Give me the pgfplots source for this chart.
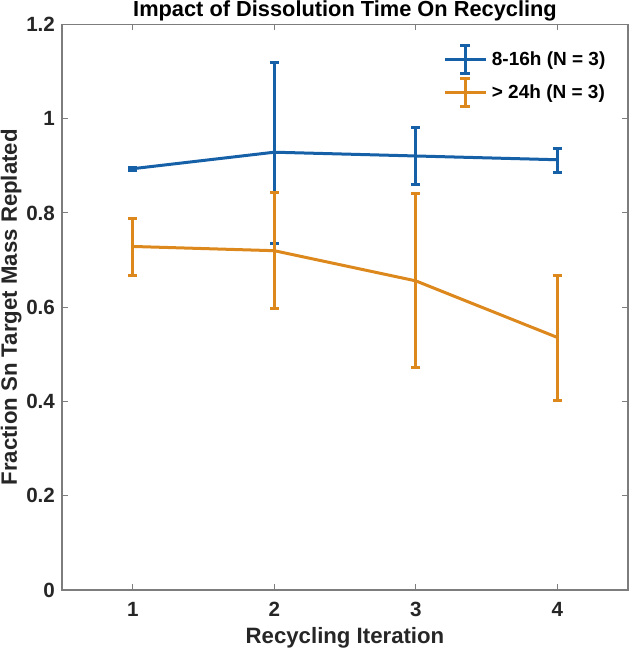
\documentclass[border=0pt]{standalone}
\usepackage{pgfplots}
\pgfplotsset{compat=1.18}
\usepackage{fontspec}
\setmainfont{Liberation Sans}
\definecolor{mblue}{RGB}{22,96,168}
\definecolor{morange}{RGB}{220,136,28}
\definecolor{axgray}{RGB}{125,125,125}
\begin{document}
\begin{tikzpicture}
\begin{axis}[
  name=ax,
  scale only axis,
  width=283pt, height=282.75pt,
  xmin=0.5, xmax=4.5, ymin=0, ymax=1.2,
  xtick={1,2,3,4}, ytick={0,0.2,0.4,0.6,0.8,1,1.2},
  yticklabels={0,0.2,0.4,0.6,0.8,1,1.2},
  tick align=inside, major tick length=3pt,
  axis line style={axgray, line width=0.6pt},
  every tick/.style={axgray, line width=0.5pt},
  /pgf/number format/assume math mode=true,
  ticklabel style={font=\fontsize{10.3}{12}\selectfont\bfseries, text=black!85},
  xticklabel style={anchor=base, yshift=-13pt},
  title={Impact of Dissolution Time On Recycling},
  every axis title shift=0pt,
  title style={font=\fontsize{10.9}{12}\selectfont\bfseries, at={(axis description cs:0.5,1)}, anchor=base, yshift=4.2pt},
  xlabel={Recycling Iteration},
  ylabel={Fraction Sn Target Mass Replated},
  label style={font=\fontsize{11.1}{13}\selectfont\bfseries, text=black!85},
  xlabel style={at={(axis description cs:0.5,0)}, anchor=base, yshift=-26.5pt},
  ylabel style={at={(axis description cs:0,0.5)}, anchor=base, yshift=22.5pt},
  legend style={draw=none, fill=none, inner sep=0pt, at={(0.674,0.9655)}, anchor=north west,
    font=\fontsize{9.5}{11}\selectfont\bfseries, row sep=1pt,
    /tikz/every even column/.append style={column sep=0pt}},
  legend cell align=left,
  legend image code/.code={
    \draw[#1, line width=1.5pt] (0pt,0pt) -- (20.5pt,0pt);
    \draw[#1, line width=1.5pt] (10pt,-7pt) -- (10pt,7pt);
    \draw[#1, line width=1.5pt] (7.5pt,-7pt) -- (12.5pt,-7pt);
    \draw[#1, line width=1.5pt] (7.5pt,7pt) -- (12.5pt,7pt);
  },
  every error bar/.append style={line width=1.5pt},
]
\addplot[mblue, line width=1.5pt, mark=none,
  error bars/.cd, y dir=both, y explicit,
  error bar style={line width=1.5pt},
  error mark options={rotate=90, mark size=2.3pt, line width=1.5pt}]
  coordinates {
    (1,0.894) += (0,0.003) -= (0,0.003)
    (2,0.929) += (0,0.191) -= (0,0.193)
    (3,0.921) += (0,0.061) -= (0,0.060)
    (4,0.913) += (0,0.024) -= (0,0.027)
  };
\addlegendentry{8-16h (N = 3)}
\addplot[morange, line width=1.5pt, mark=none,
  error bars/.cd, y dir=both, y explicit,
  error bar style={line width=1.5pt},
  error mark options={rotate=90, mark size=2.3pt, line width=1.5pt}]
  coordinates {
    (1,0.729) += (0,0.060) -= (0,0.062)
    (2,0.720) += (0,0.124) -= (0,0.122)
    (3,0.656) += (0,0.185) -= (0,0.184)
    (4,0.536) += (0,0.132) -= (0,0.133)
  };
\addlegendentry{> 24h (N = 3)}
\end{axis}
\pgfresetboundingbox
\path ([shift={(-31pt,-31.5pt)}]ax.south west) rectangle ([shift={(1pt,12.25pt)}]ax.north east);
\end{tikzpicture}
\end{document}
